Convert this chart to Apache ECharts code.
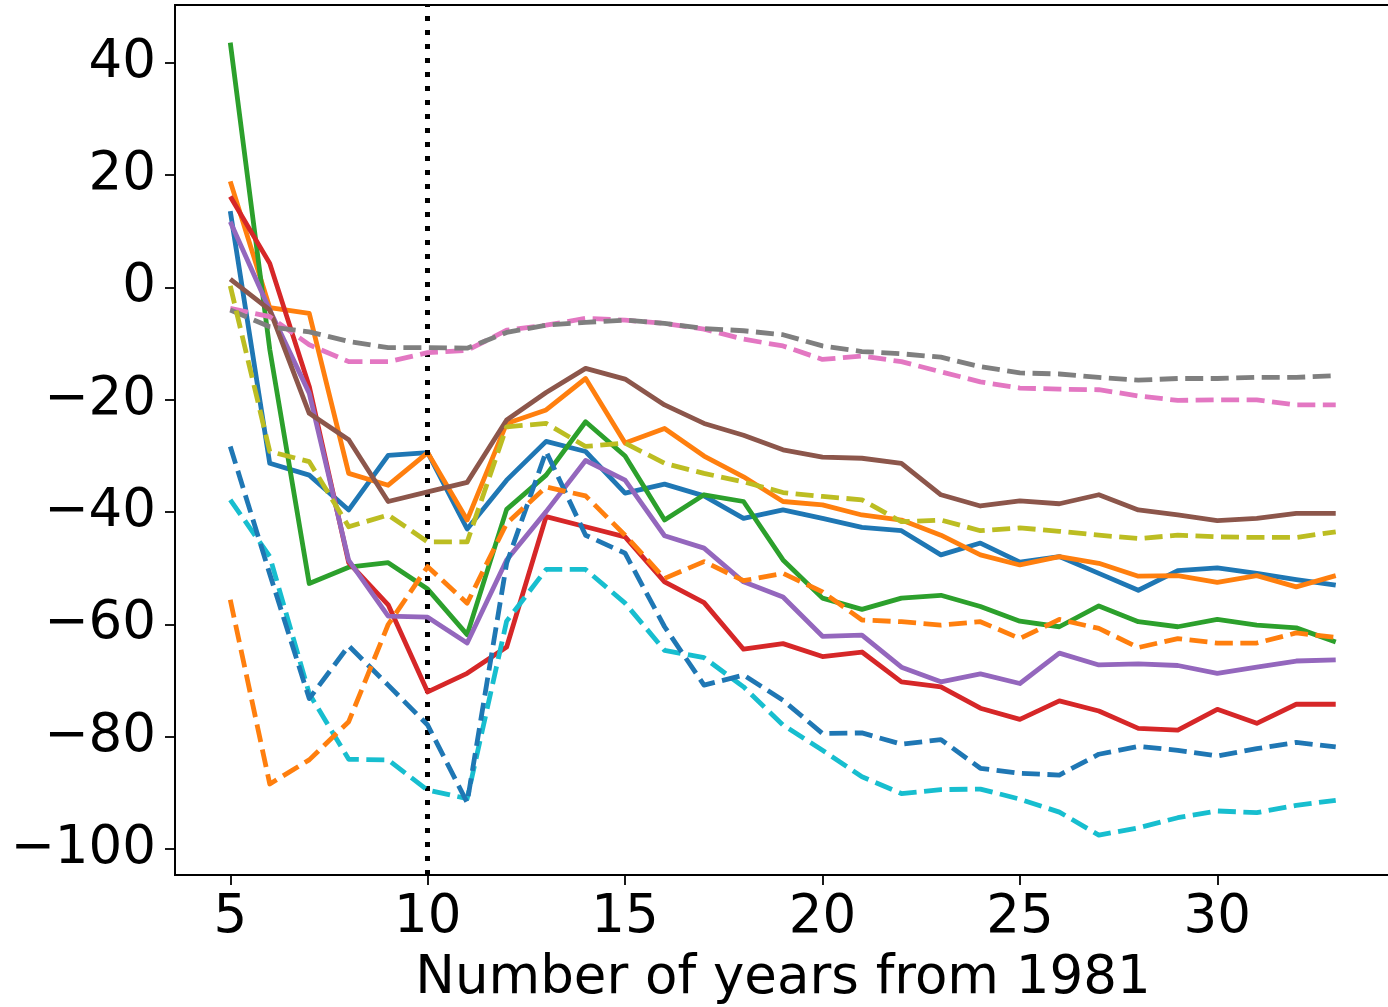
<!DOCTYPE html>
<html>
<head>
<meta charset="utf-8">
<script src="https://cdn.jsdelivr.net/npm/echarts@6/dist/echarts.min.js"></script>
<style>html,body{margin:0;padding:0;background:#fff;}#c{width:1388px;height:1007px;}</style>
</head>
<body>
<div id="c"></div>
<script>
var years = [5,6,7,8,9,10,11,12,13,14,15,16,17,18,19,20,21,22,23,24,25,26,27,28,29,30,31,32,33];
var xTicks = [5,10,15,20,25,30];
var yTicks = [-100,-80,-60,-40,-20,0,20,40];
var markYear = 10;

var blueSolid   = [13.6,-31.3,-33.4,-39.6,-29.9,-29.4,-43.0,-34.3,-27.4,-29.2,-36.6,-35.0,-37.1,-41.1,-39.6,-41.1,-42.7,-43.3,-47.6,-45.5,-48.9,-47.9,-50.9,-53.9,-50.4,-49.9,-50.9,-52.0,-53.0];
var orangeSolid = [18.9,-3.6,-4.6,-33.1,-35.2,-29.4,-41.4,-24.2,-21.8,-16.2,-27.7,-25.1,-30.0,-33.7,-38.1,-38.7,-40.5,-41.4,-44.1,-47.6,-49.4,-47.9,-49.1,-51.4,-51.3,-52.5,-51.3,-53.3,-51.3];
var greenSolid  = [43.6,-11.0,-52.7,-49.8,-49.0,-53.7,-61.8,-39.5,-33.4,-23.9,-30.0,-41.4,-36.9,-38.1,-48.5,-55.3,-57.3,-55.3,-54.8,-56.8,-59.4,-60.4,-56.7,-59.5,-60.4,-59.1,-60.1,-60.6,-63.1];
var redSolid    = [16.2,4.3,-17.6,-49.0,-56.5,-72.0,-68.7,-64.0,-40.8,-42.6,-44.4,-52.4,-56.1,-64.4,-63.4,-65.7,-64.9,-70.2,-71.1,-74.9,-76.9,-73.6,-75.4,-78.5,-78.8,-75.1,-77.6,-74.2,-74.2];
var purpleSolid = [11.7,-4.0,-18.8,-48.6,-58.5,-58.7,-63.3,-48.5,-39.9,-30.8,-34.3,-44.2,-46.4,-52.4,-55.1,-62.1,-61.9,-67.6,-70.2,-68.8,-70.5,-65.1,-67.2,-67.0,-67.3,-68.7,-67.6,-66.5,-66.3];
var brownSolid  = [1.5,-4.0,-22.4,-27.1,-38.1,-36.4,-34.7,-23.6,-18.7,-14.4,-16.3,-20.9,-24.2,-26.3,-28.9,-30.2,-30.4,-31.3,-36.9,-38.9,-38.0,-38.5,-36.9,-39.6,-40.5,-41.5,-41.1,-40.2,-40.2];
var pinkDash    = [-3.7,-5.2,-10.2,-13.2,-13.2,-11.6,-11.2,-7.6,-6.7,-5.5,-5.8,-6.4,-7.4,-9.2,-10.4,-12.8,-12.2,-13.2,-15.0,-16.8,-17.9,-18.1,-18.2,-19.3,-20.1,-20.0,-20.0,-20.9,-20.9];
var grayDash    = [-4.0,-7.0,-7.9,-9.6,-10.7,-10.7,-10.8,-8.0,-6.7,-6.2,-5.8,-6.4,-7.3,-7.7,-8.4,-10.4,-11.4,-11.8,-12.4,-14.1,-15.2,-15.4,-16.0,-16.5,-16.2,-16.2,-16.0,-16.0,-15.7];
var oliveDash   = [0.3,-29.2,-31.0,-42.6,-40.5,-45.3,-45.3,-24.8,-24.2,-28.3,-27.7,-31.3,-33.1,-34.6,-36.5,-37.2,-37.8,-41.7,-41.4,-43.3,-42.8,-43.4,-44.1,-44.7,-44.1,-44.4,-44.5,-44.5,-43.5];
var cyanDash    = [-37.8,-47.9,-72.3,-84.0,-84.1,-89.5,-91.0,-59.4,-50.2,-50.2,-56.2,-64.6,-65.9,-71.1,-77.9,-82.4,-87.1,-90.1,-89.4,-89.3,-91.1,-93.4,-97.5,-96.2,-94.4,-93.2,-93.5,-92.2,-91.3];
var blueDash    = [-28.3,-51.0,-73.2,-63.8,-70.8,-77.9,-91.7,-49.1,-29.2,-44.1,-47.3,-60.4,-70.8,-69.0,-73.5,-79.4,-79.3,-81.3,-80.5,-85.6,-86.5,-86.8,-83.1,-81.7,-82.4,-83.4,-82.1,-81.0,-81.8];
var orangeDash  = [-55.6,-88.4,-84.1,-77.3,-60.0,-49.7,-56.2,-42.0,-35.5,-37.1,-44.1,-51.8,-48.8,-52.2,-50.9,-54.2,-59.2,-59.5,-60.1,-59.5,-62.5,-59.1,-60.7,-64.1,-62.5,-63.3,-63.3,-61.5,-62.3];

var seriesDefs = [
  {d: blueSolid,   c: '#1f77b4', dash: false},
  {d: orangeSolid, c: '#ff7f0e', dash: false},
  {d: greenSolid,  c: '#2ca02c', dash: false},
  {d: redSolid,    c: '#d62728', dash: false},
  {d: purpleSolid, c: '#9467bd', dash: false},
  {d: brownSolid,  c: '#8c564b', dash: false},
  {d: pinkDash,    c: '#e377c2', dash: true},
  {d: grayDash,    c: '#7f7f7f', dash: true},
  {d: oliveDash,   c: '#bcbd22', dash: true},
  {d: cyanDash,    c: '#17becf', dash: true},
  {d: blueDash,    c: '#1f77b4', dash: true},
  {d: orangeDash,  c: '#ff7f0e', dash: true}
];

var FONT = 'DejaVu Sans';
var series = seriesDefs.map(function (s, i) {
  return {
    type: 'line',
    data: years.map(function (y, k) { return [y, s.d[k]]; }),
    showSymbol: false,
    symbol: 'none',
    z: 2 + i,
    lineStyle: {color: s.c, width: 4.8, type: s.dash ? [18, 7.5] : 'solid', cap: 'butt', join: 'round'},
    itemStyle: {color: s.c},
    silent: true
  };
});
series.push({
  type: 'line', data: [], z: 20,
  markLine: {
    silent: true, symbol: 'none', animation: false,
    label: {show: false},
    lineStyle: {color: '#000', width: 5, type: [5, 9], cap: 'butt'},
    data: [{xAxis: markYear}]
  }
});

function fmtY(v) { return v < 0 ? '\u2212' + Math.abs(v) : String(v); }

var chart = echarts.init(document.getElementById('c'), null, {renderer: 'canvas'});
chart.setOption({
  animation: false,
  backgroundColor: '#fff',
  grid: {left: 175, top: 5, width: 1216, height: 870, outerBoundsMode: 'none', containLabel: false, show: true, borderColor: '#000', borderWidth: 1.8, backgroundColor: 'transparent'},
  xAxis: {
    type: 'value', min: 3.6, max: 34.4,
    name: 'Number of years from 1981', nameLocation: 'middle', nameGap: 78,
    nameTextStyle: {fontFamily: FONT, fontSize: 53, color: '#000'},
    axisLine: {show: true, onZero: false, lineStyle: {color: '#000', width: 1.8}},
    axisTick: {show: true, length: 10, lineStyle: {color: '#000', width: 1.8}, customValues: xTicks},
    axisLabel: {fontFamily: FONT, fontSize: 53, color: '#000', margin: 17, customValues: xTicks},
    splitLine: {show: false}
  },
  yAxis: {
    type: 'value', min: -104.6, max: 50.3,
    axisLine: {show: true, onZero: false, lineStyle: {color: '#000', width: 1.8}},
    axisTick: {show: true, length: 10, lineStyle: {color: '#000', width: 1.8}, customValues: yTicks},
    axisLabel: {fontFamily: FONT, fontSize: 53, color: '#000', margin: 19, customValues: yTicks, formatter: fmtY},
    splitLine: {show: false}
  },
  series: series
});
</script>
</body>
</html>
